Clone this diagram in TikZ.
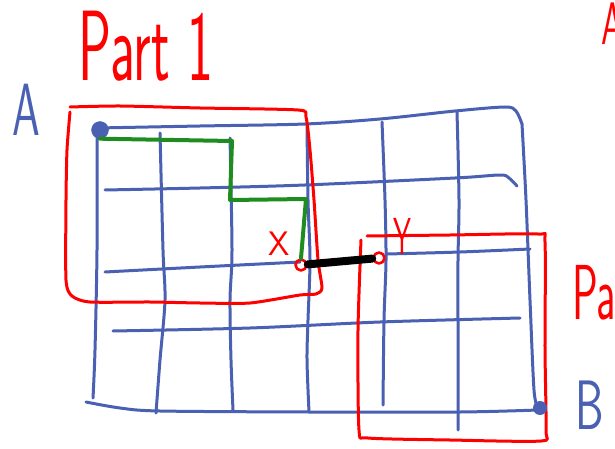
\documentclass[tikz,border=0pt]{standalone}
\usepackage{tikz}
\usetikzlibrary{arrows.meta,positioning}
\definecolor{pen}{HTML}{4A60B2}
\definecolor{route}{HTML}{1E8C1E}
\newcommand{\squeeze}[3]{\scalebox{#1}[1]{\fontsize{#2}{#2}\selectfont #3}}

\begin{document}
\begin{tikzpicture}[x=1pt,y=-1pt,line cap=round,line join=round,
 grid/.style={draw=pen,line width=3pt},
 box/.style={draw=red,line width=3pt},
 walk/.style={draw=route,line width=4pt},
 hand/.style={font=\sffamily,inner sep=0pt},
 dot/.style={circle,inner sep=0pt,minimum size=#1}]
\useasboundingbox (0,0) rectangle (615,449);
\clip (0,0) rectangle (615,449);

% grid
\draw[grid] plot[smooth,tension=.5] coordinates {(97,128) (200,126) (305,124) (380,119) (455,111) (505,107) (516,111) (522,124)};
\draw[grid] plot[smooth] coordinates {(522,124) (526,200) (530,300) (534,390) (538,408)};
\draw[grid] plot[smooth,tension=.5] coordinates {(105,190) (200,188) (305,185) (455,178) (500,175) (509,178) (517,186)};
\draw[grid] plot[smooth] coordinates {(105,272) (200,267) (300,262)};
\draw[grid] plot[smooth] coordinates {(387,254) (460,252) (530,249)};
\draw[grid] plot[smooth] coordinates {(113,331) (250,328) (380,322) (520,318)};
\draw[grid] plot[smooth,tension=.5] coordinates {(86,402) (120,408) (160,411) (310,412) (460,412) (538,410)};
\draw[grid] plot[smooth] coordinates {(97,130) (97,250) (95,350) (93,398)};
\draw[grid] plot[smooth] coordinates {(160,133) (163,250) (165,300) (160,360) (156,413)};
\draw[grid] plot[smooth] coordinates {(230,138) (232,250) (230,300) (231,360) (233,410)};
\draw[grid] plot[smooth] coordinates {(307,125) (308,200) (310,260) (308,320) (307,360) (309,412)};
\draw[grid] plot[smooth] coordinates {(382,122) (385,200) (386,260) (384,320) (383,405)};
\draw[grid] plot[smooth] coordinates {(457,112) (459,200) (458,260) (458,330) (458,430)};

% the two parts
\draw[box] plot[smooth,tension=.4] coordinates {(70,107) (120,106) (200,108) (298,110) (306,117) (310,150) (314,200) (318,260) (322,288)
 (316,294) (300,295) (250,303) (200,303) (150,302) (90,302) (72,296) (66,280) (66,200) (67,150) (70,112)};
\draw[box] plot[smooth,tension=.4] coordinates {(367,236) (450,235) (538,234) (545,242) (545,350) (546,430) (541,441) (450,440) (368,438)
 (359,430) (358,330) (361,240)};

% points
\node[dot=17pt,fill=pen,draw=pen] (a) at (100,130) {};
\node[dot=14pt,fill=pen] (b) at (540,408) {};
\node[dot=11pt,draw=red,line width=2.6pt] (x) at (301,265) {};
\node[dot=11pt,draw=red,line width=2.6pt] (y) at (379,258) {};

\draw[line width=8pt] (x) -- (y);
\draw[walk] (a.south) -- (232,141) -- (230,200) -- (306,199) -- (x.north);

% labels
\node[hand,text=red] (p1) at (146,46) {\squeeze{.55}{100}{Part 1}};
\node[hand,text=red,anchor=west] (p2) at (572,293) {\squeeze{.55}{78}{Part 2}};
\node[hand,text=red,anchor=west] (p3) at (601,24) {\squeeze{.6}{60}{A}};
\node[hand,text=pen] (la) at (26,110) {\squeeze{.6}{74}{A}};
\node[hand,text=pen] (lb) at (590,405) {\squeeze{.65}{70}{B}};
\node[hand,text=red] (lx) at (279,244) {\squeeze{1}{34}{X}};
\node[hand,text=red] (ly) at (402,236) {\squeeze{.55}{52}{Y}};
\end{tikzpicture}
\end{document}
